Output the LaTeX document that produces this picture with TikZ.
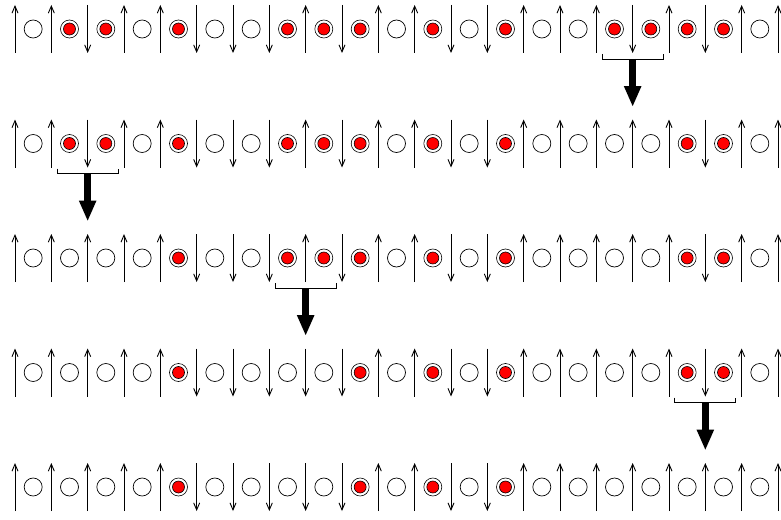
\documentclass[tikz,border=0pt]{standalone}
\usetikzlibrary{arrows.meta}
\begin{document}
\begin{tikzpicture}[x=1pt,y=-1pt,
  spin/.style={line width=0.8pt,-{Straight Barb[length=7pt,width=6pt,line width=0.9pt]}},
  emptysite/.style={circle,draw,line width=0.7pt,minimum size=18pt,inner sep=0pt},
  ringsite/.style={circle,draw,line width=0.6pt,minimum size=18pt,inner sep=0pt},
  redsite/.style={circle,draw,line width=0.6pt,fill=red,minimum size=12pt,inner sep=0pt},
  bracketline/.style={line width=0.9pt},
  flip/.style={line width=6.5pt,-{Triangle[length=21pt,width=16pt]}}]
\useasboundingbox (0,0) rectangle (781,519);
\def\spinsA{{1,1,-1,1,1,-1,-1,-1,1,-1,1,1,-1,-1,1,1,1,-1,1,-1,1,1}}
\def\spinsB{{1,1,-1,1,1,-1,-1,-1,1,-1,1,1,-1,-1,1,1,1,1,1,-1,1,1}}
\def\spinsC{{1,1,1,1,1,-1,-1,-1,1,-1,1,1,-1,-1,1,1,1,1,1,-1,1,1}}
\def\spinsD{{1,1,1,1,1,-1,-1,-1,-1,-1,1,1,-1,-1,1,1,1,1,1,-1,1,1}}
\def\spinsE{{1,1,1,1,1,-1,-1,-1,-1,-1,1,1,-1,-1,1,1,1,1,1,1,1,1}}
\foreach \r/\arr in {1/\spinsA,2/\spinsB,3/\spinsC,4/\spinsD,5/\spinsE}{
  \pgfmathsetmacro\yc{29+114.5*(\r-1)}
  \foreach \i in {0,...,21}{
    \pgfmathtruncatemacro\s{\arr[\i]}
    \pgfmathsetmacro\xc{15+36.333*\i}
    \coordinate (s\r-\i-lo) at (\xc,\yc+24);
    \coordinate (s\r-\i-hi) at (\xc,\yc-24);
    \ifnum\s=1
      \draw[spin] (s\r-\i-lo) -- (s\r-\i-hi);
    \else
      \draw[spin] (s\r-\i-hi) -- (s\r-\i-lo);
    \fi
  }
  \foreach \i in {0,...,20}{
    \pgfmathtruncatemacro\a{\arr[\i]}
    \pgfmathtruncatemacro\b{\arr[\i+1]}
    \pgfmathsetmacro\xc{33.1665+36.333*\i}
    \ifnum\a=\b
      \node[emptysite] (c\r-\i) at (\xc,\yc) {};
    \else
      \node[ringsite] (c\r-\i) at (\xc,\yc) {};
      \node[redsite] (d\r-\i) at (\xc,\yc) {};
    \fi
  }
}
\foreach \r/\k in {1/17,2/2,3/8,4/19}{
  \pgfmathsetmacro\yc{29+114.5*(\r-1)}
  \pgfmathsetmacro\xc{15+36.333*\k}
  \coordinate (bl\r) at (\xc-30.5,\yc+25);
  \coordinate (br\r) at (\xc+30.5,\yc+25);
  \coordinate (bm\r) at (\xc,\yc+30);
  \coordinate (bt\r) at (\xc,\yc+78);
  \draw[bracketline] (bl\r) -- (bl\r |- bm\r) -- (br\r |- bm\r) -- (br\r);
  \draw[flip] (bm\r) -- (bt\r);
}
\end{tikzpicture}
\end{document}
